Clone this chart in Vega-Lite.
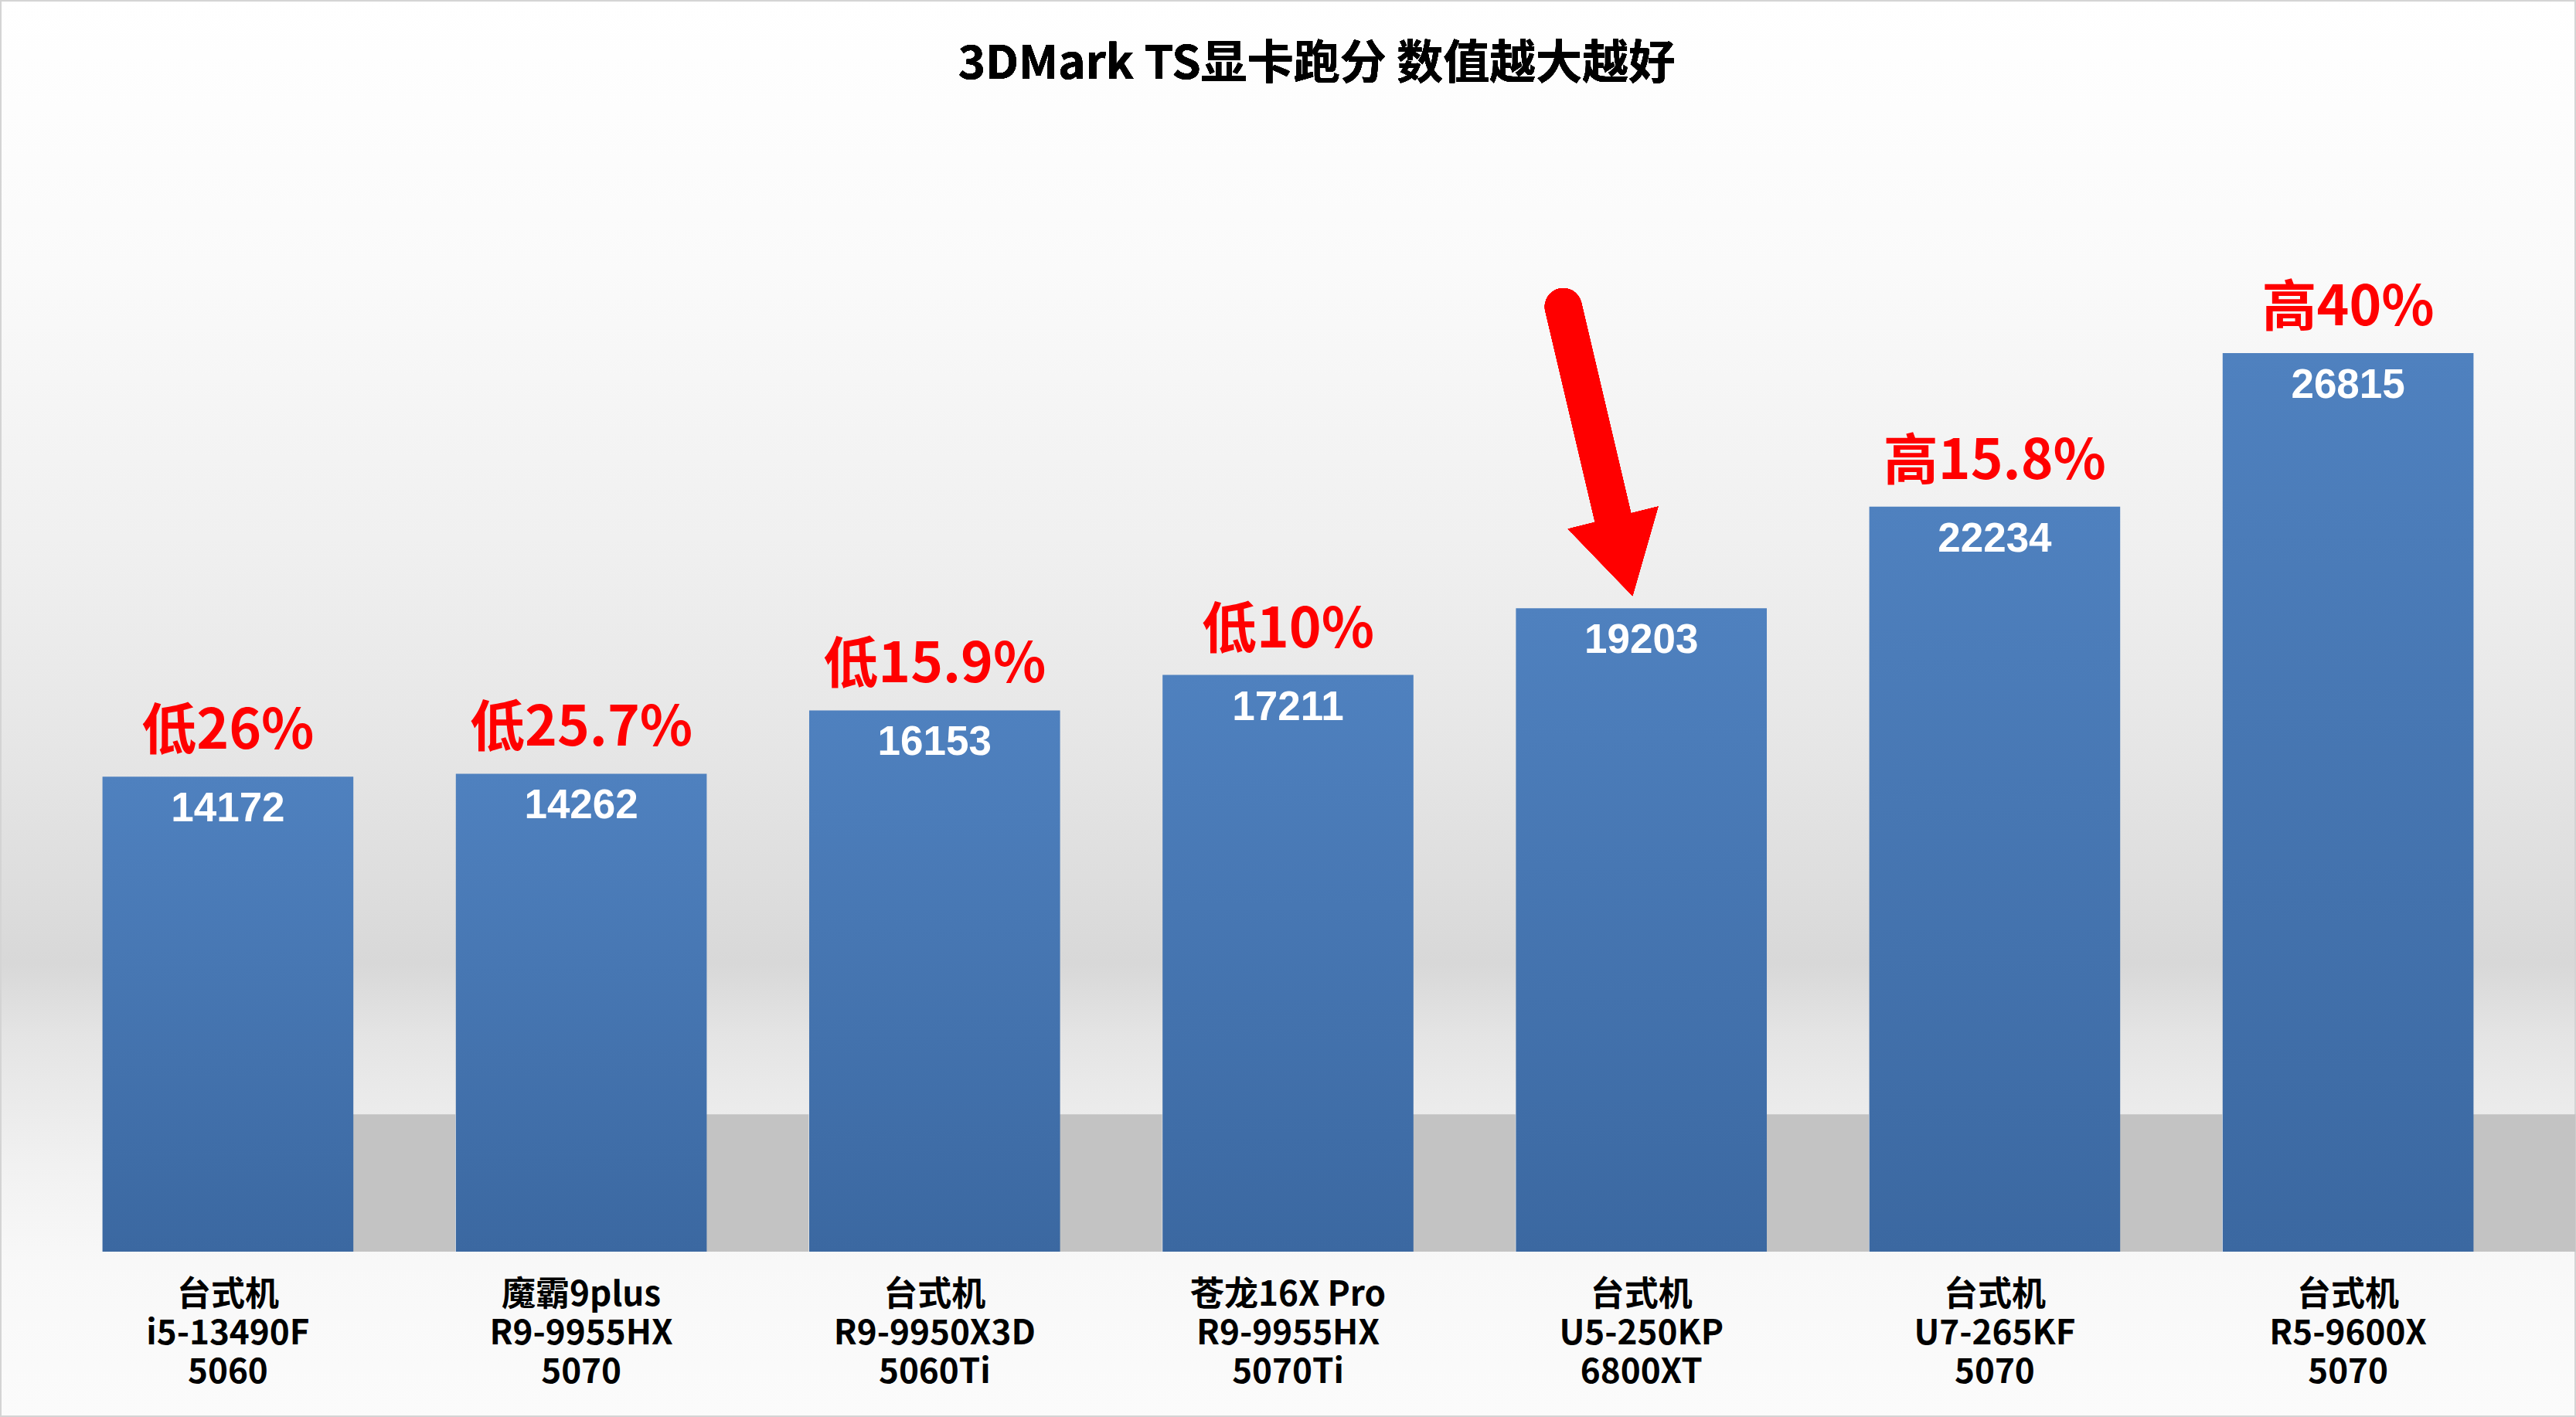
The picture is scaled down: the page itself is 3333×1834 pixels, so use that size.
{
  "$schema": "https://vega.github.io/schema/vega-lite/v6.json",
  "width": 3333,
  "height": 1834,
  "autosize": "none",
  "padding": 0,
  "background": "#ffffff",
  "view": {
    "fill": {
      "gradient": "linear",
      "x1": 0, "y1": 0, "x2": 0, "y2": 1,
      "stops": [
        {"offset": 0, "color": "#ffffff"},
        {"offset": 0.19, "color": "#fafafa"},
        {"offset": 0.38, "color": "#f0f0f0"},
        {"offset": 0.54, "color": "#e5e5e5"},
        {"offset": 0.64, "color": "#dcdcdc"},
        {"offset": 0.68, "color": "#d8d8d8"},
        {"offset": 0.73, "color": "#e4e4e4"},
        {"offset": 0.83, "color": "#f2f2f2"},
        {"offset": 0.89, "color": "#f8f8f8"},
        {"offset": 1, "color": "#fbfbfb"}
      ]
    },
    "stroke": "#d4d4d4",
    "strokeWidth": 4
  },
  "data": {
    "values": [
      {"label": "台式机\ni5-13490F\n5060", "value": 14172, "note": "低26%"},
      {"label": "魔霸9plus\nR9-9955HX\n5070", "value": 14262, "note": "低25.7%"},
      {"label": "台式机\nR9-9950X3D\n5060Ti", "value": 16153, "note": "低15.9%"},
      {"label": "苍龙16X Pro\nR9-9955HX\n5070Ti", "value": 17211, "note": "低10%"},
      {"label": "台式机\nU5-250KP\n6800XT", "value": 19203, "note": ""},
      {"label": "台式机\nU7-265KF\n5070", "value": 22234, "note": "高15.8%"},
      {"label": "台式机\nR5-9600X\n5070", "value": 26815, "note": "高40%"}
    ]
  },
  "encoding": {
    "x": {
      "field": "label",
      "type": "nominal",
      "sort": null,
      "scale": {"paddingInner": 0.29, "paddingOuter": 0.29},
      "axis": {
        "orient": "bottom",
        "offset": -214,
        "title": null,
        "domain": false,
        "ticks": false,
        "grid": false,
        "labelAngle": 0,
        "labelExpr": "split(datum.label, '\\n')",
        "labelFont": "Noto Sans CJK SC",
        "labelFontSize": 44,
        "labelFontWeight": "bold",
        "labelColor": "#000000",
        "labelLineHeight": 50,
        "labelBaseline": "top",
        "labelPadding": 34,
        "labelLimit": 0,
        "labelOverlap": false
      }
    }
  },
  "layer": [
    {
      "mark": {"type": "bar", "color": "#c3c3c3", "xOffset": 132},
      "encoding": {
        "y": {"datum": 4100, "type": "quantitative", "scale": {"domain": [-4934, 37352], "nice": false, "zero": false}, "axis": null},
        "y2": {"datum": 0}
      }
    },
    {
      "mark": {
        "type": "bar",
        "color": {
          "gradient": "linear",
          "x1": 0, "y1": 0, "x2": 0, "y2": 1,
          "stops": [
            {"offset": 0, "color": "#4f81bf"},
            {"offset": 1, "color": "#3b68a1"}
          ]
        }
      },
      "encoding": {
        "y": {"field": "value", "type": "quantitative", "scale": {"domain": [-4934, 37352], "nice": false, "zero": false}, "axis": null},
        "y2": {"datum": 0}
      }
    },
    {
      "mark": {
        "type": "text",
        "font": "Liberation Sans",
        "fontSize": 53,
        "fontWeight": "bold",
        "color": "#ffffff",
        "baseline": "alphabetic",
        "dy": 58
      },
      "encoding": {
        "y": {"field": "value", "type": "quantitative"},
        "text": {"field": "value", "type": "quantitative", "format": "d"}
      }
    },
    {
      "mark": {
        "type": "text",
        "font": "Noto Sans CJK SC",
        "fontSize": 71,
        "fontWeight": "bold",
        "color": "#ff0000",
        "baseline": "alphabetic",
        "dy": -36
      },
      "encoding": {
        "y": {"field": "value", "type": "quantitative"},
        "text": {"field": "note", "type": "nominal"}
      }
    },
    {
      "mark": {
        "type": "text",
        "font": "Noto Sans CJK SC",
        "fontSize": 60,
        "fontWeight": "bold",
        "color": "#000000",
        "baseline": "alphabetic",
        "align": "center",
        "xOffset": 37
      },
      "encoding": {
        "x": {"datum": "苍龙16X Pro\nR9-9955HX\n5070Ti"},
        "y": {"datum": 35000},
        "text": {"value": "3DMark TS显卡跑分 数值越大越好"}
      }
    },
    {
      "mark": {
        "type": "rule",
        "color": "#ff0000",
        "strokeWidth": 48,
        "strokeCap": "round",
        "xOffset": -101,
        "x2Offset": -36
      },
      "encoding": {
        "x": {"datum": "台式机\nU5-250KP\n6800XT"},
        "x2": {"datum": "台式机\nU5-250KP\n6800XT"},
        "y": {"datum": 28199},
        "y2": {"datum": 21835}
      }
    },
    {
      "mark": {
        "type": "point",
        "shape": "triangle-down",
        "size": 14500,
        "angle": 346,
        "filled": true,
        "color": "#ff0000",
        "opacity": 1,
        "strokeWidth": 0,
        "xOffset": -24
      },
      "encoding": {
        "x": {"datum": "台式机\nU5-250KP\n6800XT"},
        "y": {"datum": 20735}
      }
    }
  ]
}
